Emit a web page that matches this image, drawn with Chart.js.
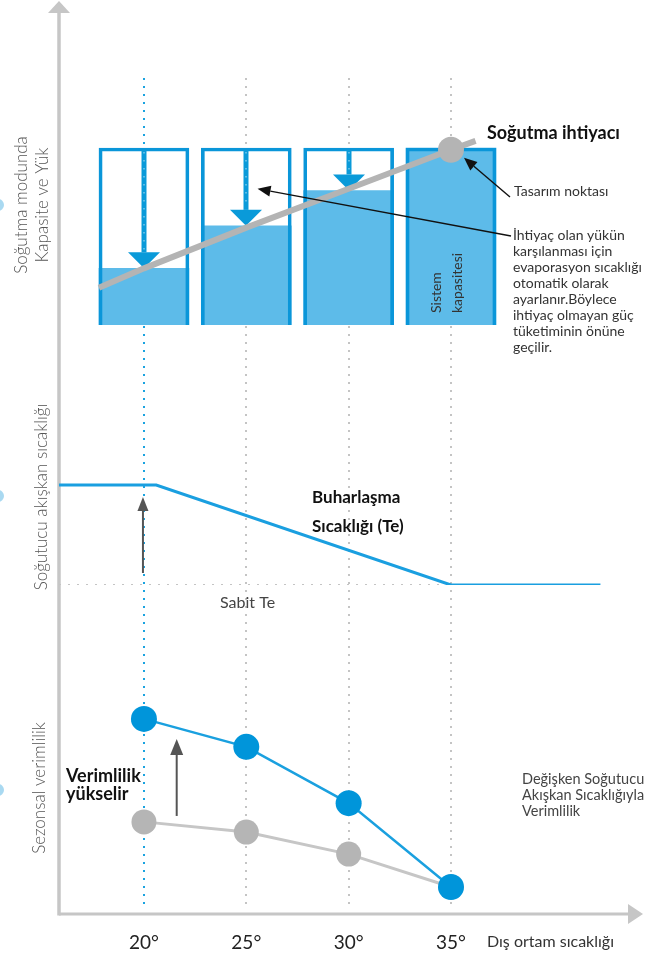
<!DOCTYPE html>
<html lang="tr">
<head>
<meta charset="utf-8">
<title>Değişken Soğutucu Akışkan Sıcaklığı</title>
<script src="https://cdn.jsdelivr.net/npm/chart.js@4.4.1/dist/chart.umd.min.js"></script>
<style>
  html, body { margin: 0; padding: 0; background: #fff; }
  .wrap { position: relative; width: 661px; height: 957px; }
</style>
</head>
<body>
<div class="wrap"><canvas id="vrfChart" width="661" height="957"></canvas></div>
<script>
// Dış ortam sıcaklıkları (x ekseni)
const temps = [20, 25, 30, 35];
const tickLabels = ['20°', '25°', '30°', '35°'];

// Üst panel: sistem kapasitesi ve karşılanan yük (%)
const capacity = [100, 100, 100, 100];
const capacityUsed = [32, 56, 76, 100];
const loadX = [17.8, 20, 25, 30, 35, 36.2];
const loadY = [21, 32, 55, 77, 99, 104];

// Orta panel: buharlaşma sıcaklığı (Te)
const teX = [15.85, 20.6, 35, 42.3];
const teY = [10, 10, 0, 0];
const sabitTeX = [15.85, 35];
const sabitTeY = [0, 0];

// Alt panel: sezonsal verimlilik
const effVariable = [59.3, 50.8, 33.7, 8.2];
const effFixed = [28, 24.9, 18.2, 8.2];

const FONT = 'Lato, "Open Sans", sans-serif';
const BLUE = '#0a96d9';
const pts = (xs, ys) => xs.map((x, i) => ({ x: x, y: ys[i] }));

function label(ctx, str, x, y, size, opts) {
    opts = opts || {};
    ctx.save();
    ctx.font = (opts.weight || 'normal') + ' ' + size + 'px ' + FONT;
    ctx.fillStyle = opts.color || '#333';
    ctx.textAlign = opts.align || 'left';
    ctx.textBaseline = opts.baseline || 'middle';
    ctx.translate(x, y);
    if (opts.rotate) ctx.rotate(opts.rotate);
    ctx.fillText(str, 0, 0);
    ctx.restore();
}

function arrow(ctx, x1, y1, x2, y2, color, width, len, half) {
    const a = Math.atan2(y2 - y1, x2 - x1);
    const bx = x2 - Math.cos(a) * len, by = y2 - Math.sin(a) * len;
    ctx.save();
    ctx.strokeStyle = color;
    ctx.fillStyle = color;
    ctx.lineWidth = width;
    ctx.beginPath();
    ctx.moveTo(x1, y1);
    ctx.lineTo(bx, by);
    ctx.stroke();
    ctx.beginPath();
    ctx.moveTo(x2, y2);
    ctx.lineTo(bx + Math.sin(a) * half, by - Math.cos(a) * half);
    ctx.lineTo(bx - Math.sin(a) * half, by + Math.cos(a) * half);
    ctx.closePath();
    ctx.fill();
    ctx.restore();
}

const decor = {
    id: 'vrfDecor',
    beforeDatasetsDraw(chart) {
        const ctx = chart.ctx, x = chart.scales.x, area = chart.chartArea;
        // noktalı dikey çizgiler
        ctx.save();
        ctx.lineWidth = 2;
        ctx.setLineDash([2, 6]);
        temps.forEach((t, i) => {
            ctx.strokeStyle = i === 0 ? '#1aa3e0' : '#c4c4c4';
            const px = Math.round(x.getPixelForValue(t));
            ctx.beginPath();
            ctx.moveTo(px, 78);
            ctx.lineTo(px, area.bottom - 6);
            ctx.stroke();
        });
        ctx.restore();

        // eksenler
        ctx.save();
        ctx.strokeStyle = '#c6c6c6';
        ctx.fillStyle = '#c6c6c6';
        ctx.lineWidth = 3.5;
        ctx.beginPath();
        ctx.moveTo(area.left, area.bottom + 1.5);
        ctx.lineTo(area.left, 12);
        ctx.stroke();
        ctx.beginPath();
        ctx.moveTo(area.left - 11, 13);
        ctx.lineTo(area.left + 11, 13);
        ctx.lineTo(area.left, 1);
        ctx.fill();
        ctx.lineWidth = 3;
        ctx.beginPath();
        ctx.moveTo(area.left, area.bottom);
        ctx.lineTo(area.right - 15, area.bottom);
        ctx.stroke();
        ctx.beginPath();
        ctx.moveTo(area.right - 15, area.bottom - 10);
        ctx.lineTo(area.right - 15, area.bottom + 10);
        ctx.lineTo(area.right, area.bottom);
        ctx.fill();
        // sol kenardaki küçük daireler
        ctx.fillStyle = '#a9d9f1';
        [205, 496, 790].forEach(cy => {
            ctx.beginPath();
            ctx.arc(-2, cy, 6, 0, Math.PI * 2);
            ctx.fill();
        });
        ctx.restore();
    },
    afterDatasetDraw(chart, args) {
        if (args.index !== 1) return;
        // kutulardaki mavi aşağı oklar
        const ctx = chart.ctx, x = chart.scales.x, y = chart.scales.yCap;
        temps.forEach((t, i) => {
            if (capacityUsed[i] >= capacity[i]) return;
            const px = Math.round(x.getPixelForValue(t));
            const top = y.getPixelForValue(capacity[i]) + 2;
            const tip = y.getPixelForValue(capacityUsed[i]);
            arrow(ctx, px, top, px, tip, '#0a9ad9', 5, 16, 16);
            ctx.save();
            ctx.strokeStyle = 'rgba(255,255,255,0.45)';
            ctx.lineWidth = 1.5;
            ctx.setLineDash([1.5, 6.5]);
            ctx.beginPath();
            ctx.moveTo(px, top + 2);
            ctx.lineTo(px, tip - 18);
            ctx.stroke();
            ctx.restore();
        });
    },
    afterDatasetsDraw(chart) {
        const ctx = chart.ctx, x = chart.scales.x;
        const yCap = chart.scales.yCap, yTe = chart.scales.yTe, yEff = chart.scales.yEff;

        // sol eksen başlıkları
        const rot = -Math.PI / 2;
        const axisOpts = { rotate: rot, align: 'center', color: '#555', weight: '300' };
        label(ctx, 'Soğutma modunda', 22, 205, 17, axisOpts);
        label(ctx, 'Kapasite ve Yük', 43, 205, 17, axisOpts);
        label(ctx, 'Soğutucu akışkan sıcaklığı', 42, 497, 17, axisOpts);
        label(ctx, 'Sezonsal verimlilik', 40, 788, 17, axisOpts);

        // üst panel notları
        label(ctx, 'Soğutma ihtiyacı', 487, 133, 18, { weight: 'bold', color: '#111' });
        label(ctx, 'Tasarım noktası', 514, 191, 14);
        const note = ['İhtiyaç olan yükün', 'karşılanması için', 'evaporasyon sıcaklığı',
            'otomatik olarak', 'ayarlanır.Böylece', 'ihtiyaç olmayan güç',
            'tüketiminin önüne', 'geçilir.'];
        note.forEach((s, i) => label(ctx, s, 513, 235 + i * 16, 14));

        const px35 = x.getPixelForValue(35);
        label(ctx, 'Sistem', px35 - 15, 313, 14, { rotate: rot, color: '#333' });
        label(ctx, 'kapasitesi', px35 + 6, 313, 14, { rotate: rot, color: '#333' });

        const dpx = x.getPixelForValue(35), dpy = yCap.getPixelForValue(loadY[4]);
        arrow(ctx, 510, 197, dpx + 13, dpy + 8, '#111', 1.4, 13, 5.5);
        arrow(ctx, 511, 236, x.getPixelForValue(25.55), yCap.getPixelForValue(77), '#111', 1.4, 13, 5.5);

        // orta panel
        label(ctx, 'Buharlaşma', 312, 503, 17, { weight: 'bold', color: '#111', baseline: 'alphabetic' });
        label(ctx, 'Sıcaklığı (Te)', 312, 532, 17, { weight: 'bold', color: '#111', baseline: 'alphabetic' });
        label(ctx, 'Sabit Te', 220, 603, 16, { color: '#444' });
        const ax = x.getPixelForValue(20) - 1;
        arrow(ctx, ax, yTe.getPixelForValue(1.2), ax, yTe.getPixelForValue(8.8), '#555', 2, 14, 5.5);

        // alt panel
        label(ctx, 'Verimlilik', 66, 782, 18, { weight: 'bold', color: '#111', baseline: 'alphabetic' });
        label(ctx, 'yükselir', 66, 800, 18, { weight: 'bold', color: '#111', baseline: 'alphabetic' });
        const bx = x.getPixelForValue(21.6);
        arrow(ctx, bx, yEff.getPixelForValue(29.8), bx, yEff.getPixelForValue(53.2), '#555', 2, 16, 6.5);
        ['Değişken Soğutucu', 'Akışkan Sıcaklığıyla', 'Verimlilik'].forEach((s, i) =>
            label(ctx, s, 522, 779 + i * 16, 14.5, { color: '#444' }));

        label(ctx, 'Dış ortam sıcaklığı', 487, 942, 16, { color: '#333' });
    }
};

const ctx = document.getElementById('vrfChart').getContext('2d');
const vrfChart = new Chart(ctx, {
    type: 'bar',
    data: {
        datasets: [
            {
                type: 'line', label: 'Soğutma ihtiyacı', data: pts(loadX, loadY), yAxisID: 'yCap',
                borderColor: '#b4b4b4', borderWidth: 6, fill: false,
                pointRadius: loadX.map(v => v === 35 ? 13 : 0),
                pointBackgroundColor: '#b4b4b4', pointBorderWidth: 0, order: 1
            },
            {
                label: 'Sistem kapasitesi', data: pts(temps, capacity), yAxisID: 'yCap',
                backgroundColor: 'rgba(0,0,0,0)', borderColor: BLUE, borderWidth: 3, order: 3
            },
            {
                label: 'Karşılanan yük', data: pts(temps, capacityUsed), yAxisID: 'yCap',
                backgroundColor: '#5dbbe9', borderWidth: 0, order: 4
            },
            {
                label: 'Zemin', data: pts(temps, capacity), yAxisID: 'yCap',
                backgroundColor: '#ffffff', borderWidth: 0, order: 5
            },
            {
                type: 'line', label: 'Buharlaşma sıcaklığı', data: pts(teX, teY), yAxisID: 'yTe',
                borderColor: '#1a9fe0', borderWidth: 3, pointRadius: 0, fill: false, order: 2
            },
            {
                type: 'line', label: 'Sabit Te', data: pts(sabitTeX, sabitTeY), yAxisID: 'yTe',
                borderColor: '#c4c4c4', borderWidth: 2, borderDash: [2, 7], pointRadius: 0, fill: false, order: 6
            },
            {
                type: 'line', label: 'Değişken Te', data: pts(temps, effVariable), yAxisID: 'yEff',
                borderColor: '#1aa0df', borderWidth: 2.5, fill: false,
                pointRadius: 13, pointBackgroundColor: '#0095da', pointBorderWidth: 0, order: 1
            },
            {
                type: 'line', label: 'Sabit Te verimi', data: pts(temps, effFixed), yAxisID: 'yEff',
                borderColor: '#c6c6c6', borderWidth: 3, fill: false,
                pointRadius: 12.5, pointBackgroundColor: '#b5b5b5', pointBorderWidth: 0, order: 2
            }
        ]
    },
    options: {
        responsive: false,
        animation: false,
        layout: { autoPadding: false, padding: { left: 59, right: 18, top: 0, bottom: 0 } },
        datasets: {
            bar: { barThickness: 90, grouped: false }
        },
        plugins: {
            legend: { display: false },
            tooltip: { enabled: false }
        },
        scales: {
            x: {
                type: 'linear', min: 15.85, max: 44.38, offset: false,
                afterBuildTicks: s => { s.ticks = temps.map(v => ({ value: v })); },
                afterFit: s => { s.height = 43; },
                ticks: {
                    callback: v => tickLabels[temps.indexOf(v)],
                    font: { family: FONT, size: 19 },
                    color: '#222', padding: 9, autoSkip: false, maxRotation: 0
                },
                grid: { display: false, offset: false },
                border: { display: false }
            },
            yEff: { type: 'linear', position: 'left', stack: 'panel', stackWeight: 329, weight: 1, min: 0, max: 100, display: false },
            yTe: { type: 'linear', position: 'left', stack: 'panel', stackWeight: 260, weight: 2, min: 0, max: 26, display: false },
            yCap: { type: 'linear', position: 'left', stack: 'panel', stackWeight: 325, weight: 3, min: 0, max: 183.6, display: false }
        }
    },
    plugins: [decor]
});
</script>
</body>
</html>
